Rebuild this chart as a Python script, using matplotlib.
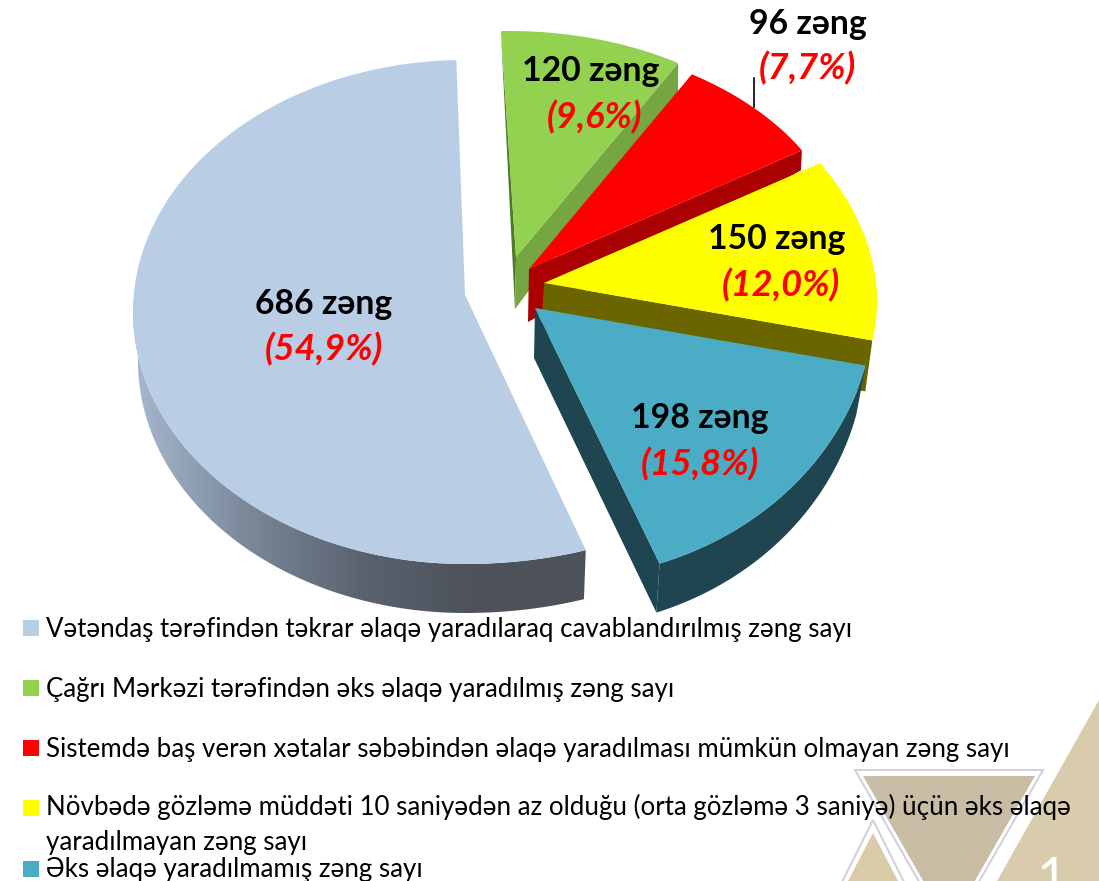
#!/usr/bin/env python3
"""
3D style exploded pie of call counts, drawn on a pixel-sized axes.
"""

import numpy as np
import matplotlib
matplotlib.use('Agg')
import matplotlib.pyplot as plt
from matplotlib.patches import Polygon
from matplotlib.colors import LinearSegmentedColormap

plt.rcParams['font.family'] = ['Lato', 'Open Sans', 'DejaVu Sans']

# data, clockwise from the top
slice_names = ['green', 'red', 'yellow', 'teal', 'blue']
calls = [120, 96, 150, 198, 686]
legend_order = ['blue', 'green', 'red', 'yellow', 'teal']
legend_texts = [
    'Vətəndaş tərəfindən təkrar əlaqə yaradılaraq cavablandırılmış zəng sayı',
    'Çağrı Mərkəzi tərəfindən əks əlaqə yaradılmış zəng sayı',
    'Sistemdə baş verən xətalar səbəbindən əlaqə yaradılması mümkün olmayan zəng sayı',
    'Növbədə gözləmə müddəti 10 saniyədən az olduğu (orta gözləmə 3 saniyə) üçün əks əlaqə\nyaradılmayan zəng sayı',
    'Əks əlaqə yaradılmamış zəng sayı',
]

# styles and placement
top_colors = {'green': '#93d151', 'red': '#ff0000', 'yellow': '#ffff00',
              'teal': '#4bacc6', 'blue': '#b9cde5'}
side_colors = {'green': '#76a642', 'red': '#ab0000', 'yellow': '#6b6500',
               'teal': '#1f4650', 'blue': '#4d525a'}
START_ANGLE = -1.5

# apex, ellipse centre, radii and x skew of every exploded slice (pixels)
geometry = {
    'green': dict(apex=(516, 257), center=(509, 229), rx=310, ry=198, skew=0.0),
    'red': dict(apex=(529, 269), center=(508, 257), rx=337, ry=218, skew=0.0),
    'yellow': dict(apex=(544, 283), center=(531, 282), rx=345, ry=243, skew=0.08),
    'teal': dict(apex=(535, 308), center=(555, 298), rx=320, ry=281, skew=0.0),
    'blue': dict(apex=(465, 295), center=(465, 312), rx=332, ry=252, skew=0.12),
}
label_pos = {
    'blue': ((324, 304), (324, 349)),
    'green': ((591, 71), (595, 117)),
    'red': ((808, 24), (807, 68)),
    'yellow': ((777, 239), (781, 285)),
    'teal': ((700, 418), (700, 464)),
}
legend_y = [629, 689, 749, 809, 870]


def arc_points(name, t0, t1, n=120):
    """Outer edge of a slice, angles in degrees clockwise from the top."""
    g = geometry[name]
    t = np.radians(np.linspace(t0, t1, n))
    # the skew only pulls the right hand side of the ellipse
    stretch = np.where(np.sin(t) > 0, 1 - g['skew'] * np.cos(t), 1.0)
    x = g['center'][0] + g['rx'] * np.sin(t) * stretch
    y = g['center'][1] - g['ry'] * np.cos(t)
    return np.column_stack([x, y])


fig = plt.figure(figsize=(10.99, 8.81), dpi=100)
ax = fig.add_axes([0, 0, 1, 1])
ax.set_xlim(0, 1099)
ax.set_ylim(881, 0)
ax.axis('off')

# background triangles of the slide
ax.add_patch(Polygon([(1099, 700), (1099, 881), (997, 881)], fc='#d8ccac', ec='none', zorder=0))
ax.add_patch(Polygon([(855, 770), (1043, 770), (949, 934)], fc='white', ec='#d2d2dc', lw=1.5, zorder=0.1))
ax.add_patch(Polygon([(863, 776), (1035, 776), (949, 926)], fc='#c9bca5', ec='none', zorder=0.2))
ax.add_patch(Polygon([(873, 820), (838, 890), (908, 890)], fc='white', ec='#d2d2dc', lw=1.5, zorder=0.3))
ax.add_patch(Polygon([(873, 833), (848, 881), (898, 881)], fc='#d9cba6', ec='none', zorder=0.4))
ax.text(1052, 895, '1', color='white', fontsize=38, ha='center', va='baseline', zorder=0.5)

shares = np.array(calls) / sum(calls) * 360
edges = START_ANGLE + np.concatenate([[0], np.cumsum(shares)])
angle_ranges = {n: (edges[i], edges[i + 1]) for i, n in enumerate(slice_names)}

# blue: outer wall with a horizontal gradient, then the top
t0, t1 = angle_ranges['blue']
top_arc = arc_points('blue', t0, t1, 240)
wall_arc = top_arc[top_arc[:, 1] > 300]
cx = geometry['blue']['center'][0]
lower = np.column_stack([cx + (wall_arc[:, 0] - cx) * 0.985, wall_arc[:, 1] + 49])
wall = Polygon(np.vstack([wall_arc, lower[::-1]]), fc='none', ec='none', zorder=1)
ax.add_patch(wall)
cmap = LinearSegmentedColormap.from_list('blue_wall', ['#a7b8cf', '#7a8899', '#5a626f', '#4d525a', '#4d525a'])
im = ax.imshow(np.linspace(0, 1, 256)[None, :], extent=(133, 590, 620, 300), cmap=cmap,
               aspect='auto', zorder=1)
im.set_clip_path(wall)
ax.set_xlim(0, 1099)
ax.set_ylim(881, 0)
ax.add_patch(Polygon(np.vstack([geometry['blue']['apex'], top_arc]), fc=top_colors['blue'], ec='none', zorder=2))

# green
t0, t1 = angle_ranges['green']
arc = arc_points('green', t0, t1)
ax.add_patch(Polygon([arc[0], (516, 257), (515, 309)], fc='#4f7a28', ec='none', zorder=3))
ax.add_patch(Polygon([(516, 257), arc[-1], arc[-1] + (0, 30), (515, 309)], fc=side_colors['green'], ec='none', zorder=3))
ax.add_patch(Polygon(np.vstack([geometry['green']['apex'], arc]), fc=top_colors['green'], ec='none', zorder=4))

# red
t0, t1 = angle_ranges['red']
arc = arc_points('red', t0, t1)
ax.add_patch(Polygon([(529, 269), arc[-1], arc[-1] + (-1, 20), (528, 322)], fc=side_colors['red'], ec='none', zorder=5))
ax.add_patch(Polygon(np.vstack([geometry['red']['apex'], arc]), fc=top_colors['red'], ec='none', zorder=6))

# yellow
t0, t1 = angle_ranges['yellow']
arc = arc_points('yellow', t0, t1)
ax.add_patch(Polygon([(544, 283), arc[-1], arc[-1] + (-7, 51), (541, 335)], fc=side_colors['yellow'], ec='none', zorder=7))
ax.add_patch(Polygon(np.vstack([geometry['yellow']['apex'], arc]), fc=top_colors['yellow'], ec='none', zorder=8))

# teal: inner wall, outer wall, top
t0, t1 = angle_ranges['teal']
arc = arc_points('teal', t0, t1)
cx = geometry['teal']['center'][0]
low = np.column_stack([cx + (arc[:, 0] - cx) * 0.97, arc[:, 1] + 49])
ax.add_patch(Polygon(np.vstack([arc, low[::-1]]), fc=side_colors['teal'], ec='none', zorder=9))
ax.add_patch(Polygon([(535, 308), arc[-1], low[-1], (534, 358)], fc=side_colors['teal'], ec='none', zorder=9))
ax.add_patch(Polygon(np.vstack([geometry['teal']['apex'], arc]), fc=top_colors['teal'], ec='none', zorder=10))

# leader of the red label
ax.plot([753.5, 753.5], [78, 107], color='black', lw=1.2, zorder=11)

# value labels
for name, count in zip(slice_names, calls):
    pos_count, pos_pct = label_pos[name]
    pct = f'({count / sum(calls) * 100:.1f}%)'.replace('.', ',')
    ax.text(*pos_count, f'{count} zəng', fontsize=24.3, fontweight='bold', color='black',
            ha='center', va='center', zorder=12)
    ax.text(*pos_pct, pct, fontsize=26, fontweight='bold', fontstyle='italic', color='#ff0000',
            ha='center', va='center', zorder=12)

# legend
for name, text, y in zip(legend_order, legend_texts, legend_y):
    ax.add_patch(Polygon([(23, y - 9), (39, y - 9), (39, y + 7), (23, y + 7)],
                         fc=top_colors[name], ec='none', zorder=12))
    two_lines = '\n' in text
    ax.text(46, y - 15 if two_lines else y, text, fontsize=18.6, color='black', ha='left',
            va='top' if two_lines else 'center', linespacing=1.5, zorder=12)

fig.savefig('out.png', dpi=100)
